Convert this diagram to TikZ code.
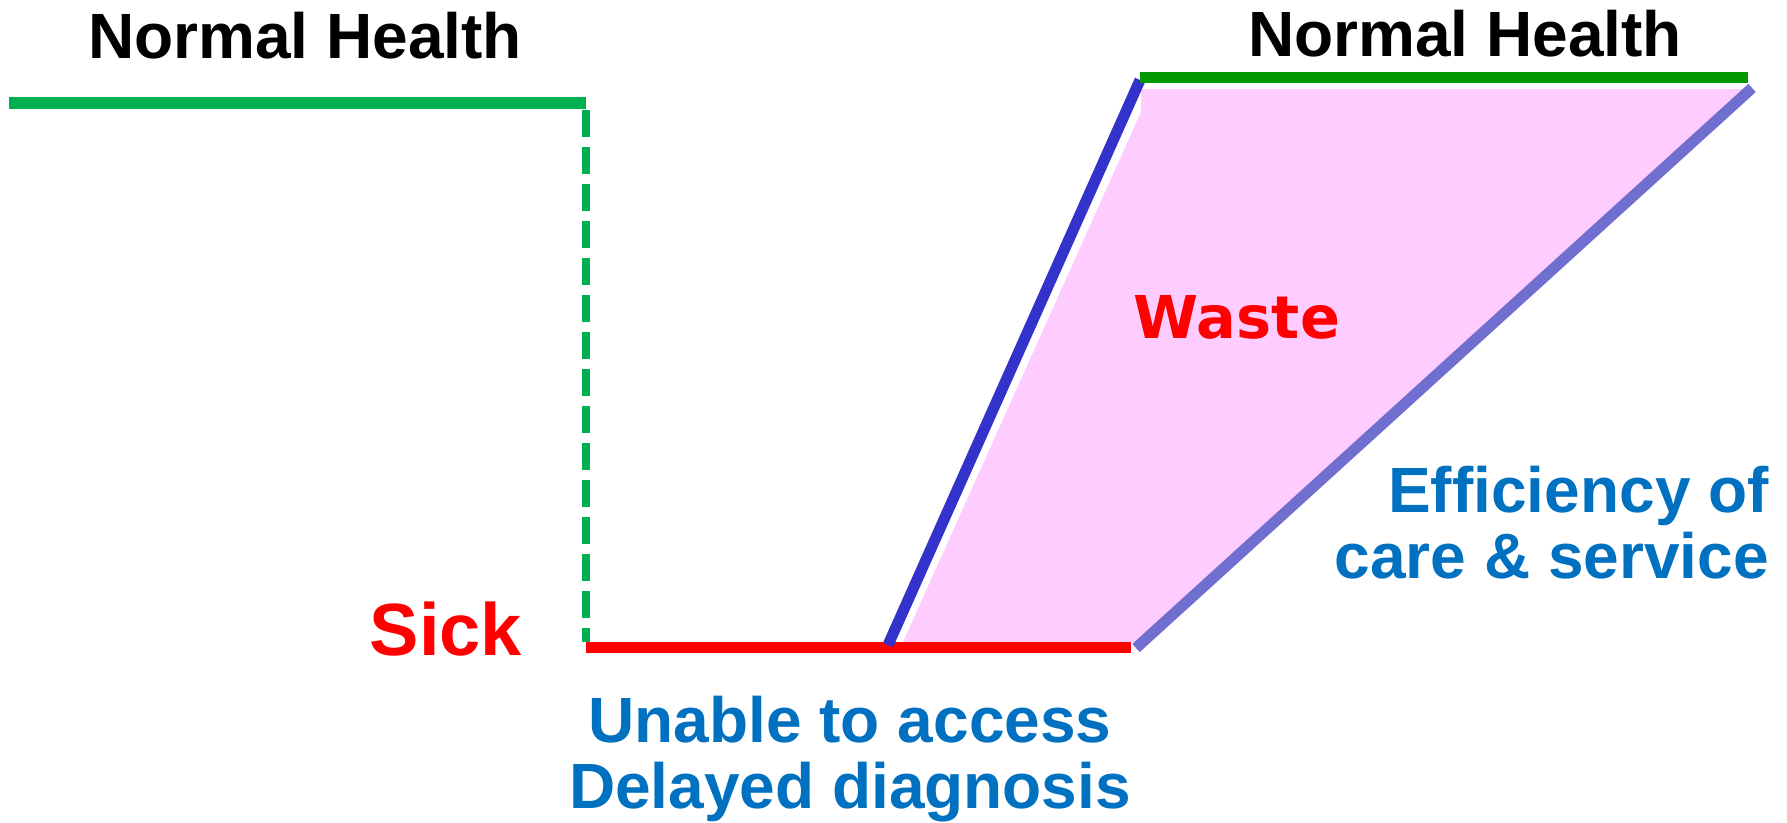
\documentclass[tikz,border=0pt]{standalone}
\usepackage{fontspec}
\setmainfont{Liberation Sans}
\newfontfamily\wastefont{DejaVu Sans}
\definecolor{healthgreen}{HTML}{00B050}
\definecolor{recovgreen}{HTML}{009900}
\definecolor{sickred}{HTML}{FF0000}
\definecolor{slopeblue}{HTML}{3333CC}
\definecolor{effpurple}{HTML}{6F6FCF}
\definecolor{wastepink}{HTML}{FFCCFF}
\definecolor{labelblue}{HTML}{0070C0}
\tikzset{
  lbl/.style={inner sep=0pt, anchor=base, font=\bfseries\fontsize{64}{66}\selectfont},
  heading/.style={lbl, text=black},
  note/.style={lbl, text=labelblue},
  level/.style={line width=12pt, line cap=butt},
  slope/.style={line width=11pt, line cap=butt},
}
\begin{document}
\begin{tikzpicture}[x=1pt,y=-1pt]
\useasboundingbox (0,0) rectangle (1787,822);

% key points of the health curve (pixel coordinates, y downwards)
\coordinate (hL) at (9,103);
\coordinate (hDrop) at (586,103);
\coordinate (dTop) at (586,110);
\coordinate (dBot) at (586,642);
\coordinate (sL) at (586,647.5);
\coordinate (sR) at (1131,647.5);
\coordinate (bBot) at (888,645);
\coordinate (bTop) at (1140,80);
\coordinate (gL) at (1140,77.5);
\coordinate (gR) at (1748,77.5);
\coordinate (pBot) at (1136,648);
\coordinate (pTop) at (1752,88);

% wasted region between ideal and actual recovery
\fill[wastepink] (903,642) -- (1141,112) -- (1141,89) -- (1745,89) -- (1138,642) -- cycle;

% healthy level, sudden drop, sick level
\draw[healthgreen, level] (hL) -- (hDrop);
\draw[healthgreen, line width=7.5pt, dash pattern=on 27pt off 10pt] (dTop) -- (dBot);
\draw[sickred, level, line width=11pt] (sL) -- (sR);

% ideal recovery, restored health, actual recovery
\draw[slopeblue, slope] (bBot) -- (bTop);
\draw[recovgreen, level, line width=11pt] (gL) -- (gR);
\draw[effpurple, slope] (pBot) -- (pTop);

% labels
\node[heading] (nhL) at (305,58) {Normal Health};
\node[heading] (nhR) at (1465,56) {Normal Health};
\node[lbl, text=sickred, font=\bfseries\fontsize{74}{76}\selectfont] (sick) at (446,655) {Sick};
\node[lbl, text=sickred, font=\wastefont\bfseries\fontsize{59}{61}\selectfont] (waste) at (1237,338) {Waste};
\node[note, anchor=base east] (eff1) at (1769,512) {Efficiency of};
\node[note, anchor=base east] (eff2) at (1769,578) {care \& service};
\node[note] (un1) at (850,742) {Unable to access};
\node[note] (un2) at (850,808) {Delayed diagnosis};
\end{tikzpicture}
\end{document}
